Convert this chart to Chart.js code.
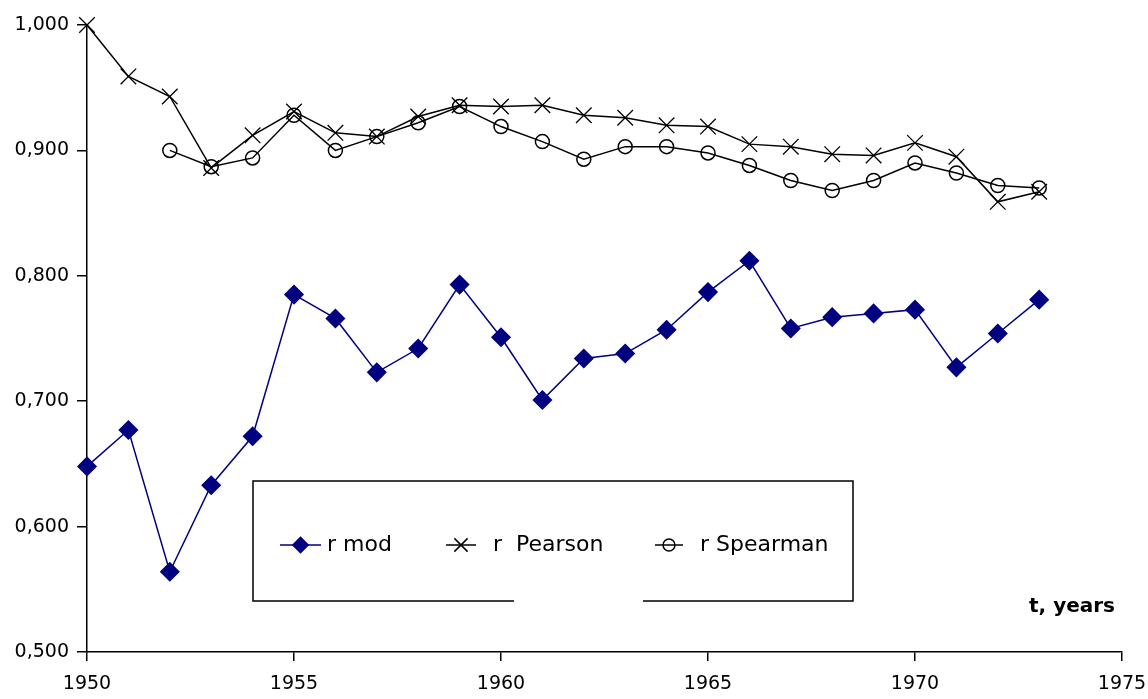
<!DOCTYPE html>
<html>
<head>
<meta charset="utf-8">
<script src="https://cdn.jsdelivr.net/npm/chart.js@4"></script>
<style>
  body { margin: 0; background: #fff; }
  .plot { width: 1148px; height: 699px; position: relative; }
</style>
</head>
<body>
<div class="plot">
  <canvas id="chart"></canvas>
</div>
<script>
const years = [1950, 1951, 1952, 1953, 1954, 1955, 1956, 1957, 1958, 1959, 1960, 1961,
  1962, 1963, 1964, 1965, 1966, 1967, 1968, 1969, 1970, 1971, 1972, 1973];
const rMod = [0.648, 0.677, 0.564, 0.633, 0.672, 0.785, 0.766, 0.723, 0.742, 0.793, 0.751, 0.701,
  0.734, 0.738, 0.757, 0.787, 0.812, 0.758, 0.767, 0.770, 0.773, 0.727, 0.754, 0.781];
const rPearson = [1.000, 0.959, 0.943, 0.886, 0.912, 0.931, 0.914, 0.911, 0.927, 0.936, 0.935, 0.936,
  0.928, 0.926, 0.920, 0.919, 0.905, 0.903, 0.897, 0.896, 0.906, 0.895, 0.859, 0.867];
// Spearman starts in 1952
const spearmanYears = years.slice(2);
const rSpearman = [0.900, 0.887, 0.894, 0.928, 0.900, 0.911, 0.922, 0.935, 0.919, 0.907,
  0.893, 0.903, 0.903, 0.898, 0.888, 0.876, 0.868, 0.876, 0.890, 0.882, 0.872, 0.870];
const xTicks = [1950, 1955, 1960, 1965, 1970, 1975];
const yTicks = [0.5, 0.6, 0.7, 0.8, 0.9, 1.0];
const axisTitle = 't, years';

const toPoints = (xs, ys) => ys.map((v, i) => ({ x: xs[i], y: v }));
const FONT = 'DejaVu Sans';

// legend box drawn by hand (it has a gap in the bottom border)
const boxLegend = {
  id: 'boxLegend',
  afterDraw(chart) {
    const ctx = chart.ctx;
    ctx.save();
    ctx.strokeStyle = '#000';
    ctx.lineWidth = 1.5;
    ctx.beginPath();
    ctx.moveTo(514, 601);
    ctx.lineTo(253, 601);
    ctx.lineTo(253, 481);
    ctx.lineTo(853, 481);
    ctx.lineTo(853, 601);
    ctx.lineTo(643, 601);
    ctx.stroke();

    const items = [
      { x0: 280, x1: 321, text: 327 },
      { x0: 446, x1: 476, text: 493 },
      { x0: 655, x1: 683, text: 700 },
    ];
    const cy = 545;
    chart.data.datasets.forEach((ds, i) => {
      const it = items[i];
      ctx.strokeStyle = ds.borderColor;
      ctx.lineWidth = 1.5;
      ctx.beginPath();
      ctx.moveTo(it.x0, cy);
      ctx.lineTo(it.x1, cy);
      ctx.stroke();
      ctx.fillStyle = ds.pointBackgroundColor;
      ctx.strokeStyle = ds.pointBorderColor;
      ctx.lineWidth = 1.5;
      Chart.helpers.drawPoint(ctx, { pointStyle: ds.pointStyle, radius: ds.pointRadius * 0.85, borderWidth: 1.5, rotation: 0 },
        (it.x0 + it.x1) / 2, cy);
      ctx.fillStyle = '#000';
      ctx.font = '22px ' + FONT;
      ctx.textBaseline = 'middle';
      ctx.textAlign = 'left';
      ctx.fillText(ds.label, it.text, cy);
    });

    ctx.font = 'bold 20px ' + FONT;
    ctx.textAlign = 'right';
    ctx.textBaseline = 'alphabetic';
    ctx.fillStyle = '#000';
    ctx.fillText(axisTitle, 1115, 612);
    ctx.restore();
  }
};

const ctx = document.getElementById('chart').getContext('2d');
new Chart(ctx, {
  type: 'line',
  data: {
    datasets: [
      {
        label: 'r mod',
        data: toPoints(years, rMod),
        borderColor: '#000080',
        backgroundColor: '#000080',
        pointBackgroundColor: '#000080',
        pointBorderColor: '#000080',
        pointStyle: 'rectRot',
        pointRadius: 9,
        borderWidth: 1.5,
        tension: 0,
        clip: false,
      },
      {
        label: 'r  Pearson',
        data: toPoints(years, rPearson),
        borderColor: '#000',
        backgroundColor: 'rgba(0,0,0,0)',
        pointBackgroundColor: 'rgba(0,0,0,0)',
        pointBorderColor: '#000',
        pointStyle: 'crossRot',
        pointRadius: 11,
        pointBorderWidth: 1.3,
        borderWidth: 1.5,
        tension: 0,
        clip: false,
      },
      {
        label: 'r Spearman',
        data: toPoints(spearmanYears, rSpearman),
        borderColor: '#000',
        backgroundColor: 'rgba(0,0,0,0)',
        pointBackgroundColor: 'rgba(0,0,0,0)',
        pointBorderColor: '#000',
        pointStyle: 'circle',
        pointRadius: 7,
        pointBorderWidth: 1.5,
        borderWidth: 1.5,
        tension: 0,
        clip: false,
      },
    ],
  },
  options: {
    responsive: true,
    maintainAspectRatio: false,
    animation: false,
    layout: { padding: { top: 25, right: 26, left: 0, bottom: 0 } },
    scales: {
      x: {
        type: 'linear',
        min: 1950,
        max: 1975,
        afterBuildTicks: (scale) => { scale.ticks = xTicks.map(v => ({ value: v })); },
        afterFit: (scale) => {
          scale.height = 47;
          scale.paddingLeft = 0;
          scale.paddingRight = 0;
        },
        grid: { drawOnChartArea: false, drawTicks: true, tickLength: 9, color: '#000', lineWidth: 1.5 },
        border: { display: true, color: '#000', width: 1.5 },
        ticks: { color: '#000', padding: 12, font: { family: FONT, size: 19 }, callback: (v) => String(v) },
      },
      y: {
        type: 'linear',
        min: 0.5,
        max: 1.0,
        afterBuildTicks: (scale) => { scale.ticks = yTicks.map(v => ({ value: v })); },
        afterFit: (scale) => { scale.width = 87; },
        grid: { drawOnChartArea: false, drawTicks: true, tickLength: 10, color: '#000', lineWidth: 1.5 },
        border: { display: true, color: '#000', width: 1.5 },
        ticks: {
          color: '#000',
          padding: 8,
          font: { family: FONT, size: 19 },
          callback: (v) => v.toFixed(3).replace('.', ','),
        },
      },
    },
    plugins: {
      legend: { display: false },
      tooltip: { enabled: false },
    },
  },
  plugins: [boxLegend],
});
</script>
</body>
</html>
